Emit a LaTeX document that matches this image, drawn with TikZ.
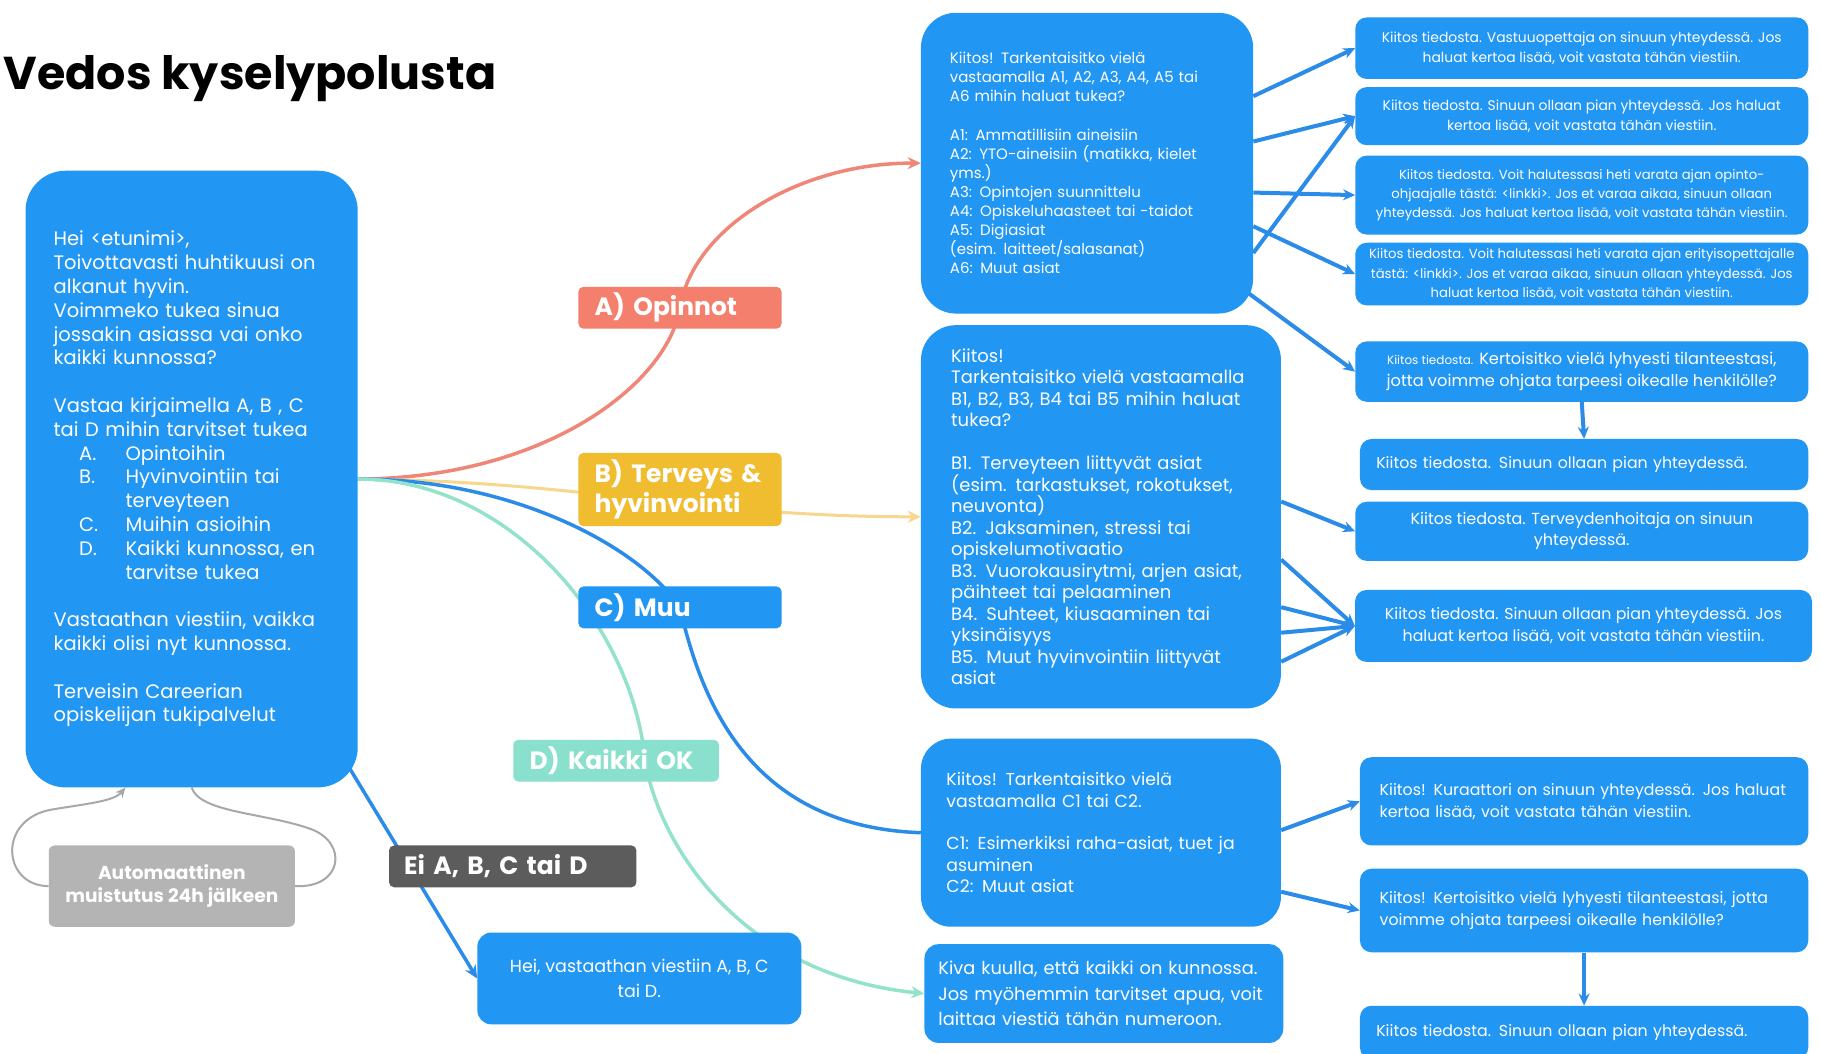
\documentclass[tikz,border=0pt]{standalone}
\usepackage{fontspec}
\setmainfont{Poppins}
\usetikzlibrary{arrows.meta,calc,backgrounds}

\definecolor{boxblue}{HTML}{2196F3}
\definecolor{lineblue}{HTML}{2A8BE8}
\definecolor{salmon}{HTML}{F47F6C}
\definecolor{salmonline}{HTML}{EF8677}
\definecolor{amber}{HTML}{F1BD30}
\definecolor{amberline}{HTML}{F7D68E}
\definecolor{mint}{HTML}{89E0CC}
\definecolor{mintline}{HTML}{93E2CC}
\definecolor{slate}{HTML}{5C5C5C}
\definecolor{graybox}{HTML}{B4B4B4}
\definecolor{loopgray}{HTML}{A8A8A8}

\begin{document}
\begin{tikzpicture}[x=1.1614pt,y=-1.1614pt,
    bubble/.style={fill=boxblue,text=white,align=left,inner ysep=0pt},
    reply/.style={fill=boxblue,text=white,align=center,rounded corners=11.6pt,
      minimum width=453pt,inner xsep=0pt,inner ysep=0pt,font=\fontsize{15.8}{22}\selectfont},
    tag/.style={text=white,align=left,rounded corners=5pt,minimum width=203.2pt,
      text width=170.6pt,inner xsep=16.3pt,inner ysep=0pt,minimum height=41.8pt,
      font=\bfseries\fontsize{25}{30}\selectfont},
    link/.style={draw=lineblue,line width=4pt,-{Stealth[length=12pt,width=11pt]}},
    branch/.style={line width=3.5pt,-{Stealth[length=13pt,width=12pt]}}]
  \useasboundingbox (0,0) rectangle (1568,907);

  \node[anchor=base west,inner sep=0pt,font=\bfseries\fontsize{46}{52}\selectfont] (title) at (3,77) {Vedos kyselypolusta};

  % first message
  \node[bubble,rounded corners=40pt,minimum height=616.7pt,text width=276pt,inner xsep=28.1pt,
    font=\fontsize{19.5}{23.8}\selectfont] (main) at (165,412.5) {Hei <etunimi>,\\
    Toivottavasti huhtikuusi on\\
    alkanut hyvin.\\
    Voimmeko tukea sinua\\
    jossakin asiassa vai onko\\
    kaikki kunnossa?\\[23.8pt]
    Vastaa kirjaimella A, B , C\\
    tai D mihin tarvitset tukea\\
    \hspace*{25.5pt}\makebox[46.5pt][l]{A.}Opintoihin\\
    \hspace*{25.5pt}\makebox[46.5pt][l]{B.}Hyvinvointiin tai\\
    \hspace*{72pt}terveyteen\\
    \hspace*{25.5pt}\makebox[46.5pt][l]{C.}Muihin asioihin\\
    \hspace*{25.5pt}\makebox[46.5pt][l]{D.}Kaikki kunnossa, en\\
    \hspace*{72pt}tarvitse tukea\\[23.8pt]
    Vastaathan viestiin, vaikka\\
    kaikki olisi nyt kunnossa.\\[23.8pt]
    Terveisin Careerian\\
    opiskelijan tukipalvelut};

  \node[fill=graybox,text=white,align=center,rounded corners=6pt,minimum width=246.2pt,minimum height=81.3pt,
    inner sep=0pt,font=\bfseries\fontsize{18.6}{23}\selectfont] (remind) at (148,763) {Automaattinen\\muistutus 24h jälkeen};

  % answer labels
  \node[tag,fill=salmon] (aopt) at (585.5,265) {A) Opinnot};
  \node[tag,fill=amber,minimum height=73.2pt] (bopt) at (585.5,421.5) {B) Terveys \&\\hyvinvointi};
  \node[tag,fill=boxblue] (copt) at (585.5,523) {C) Muu};
  \node[tag,fill=mint,minimum width=205.6pt,text width=173pt] (dopt) at (530.5,655) {D) Kaikki OK};
  \node[tag,fill=slate,minimum width=247.4pt,text width=217.2pt,inner xsep=15.1pt] (eopt) at (441.5,746) {Ei A, B, C tai D};

  % follow-up questions
  \node[bubble,rounded corners=35pt,minimum height=300.8pt,text width=274.2pt,inner xsep=29pt,
    font=\fontsize{15}{19.1}\selectfont] (abox) at (936,140.5) {Kiitos! Tarkentaisitko vielä\\
    vastaamalla A1, A2, A3, A4, A5 tai\\
    A6 mihin haluat tukea?\\[19.1pt]
    A1: Ammatillisiin aineisiin\\
    A2: YTO-aineisiin (matikka, kielet\\
    yms.)\\
    A3: Opintojen suunnittelu\\
    A4: Opiskeluhaasteet tai -taidot\\
    A5: Digiasiat\\
    (esim. laitteet/salasanat)\\
    A6: Muut asiat};

  \node[bubble,rounded corners=35pt,minimum height=383.3pt,text width=299.6pt,inner xsep=30.2pt,
    font=\fontsize{18}{21.5}\selectfont] (bbox) at (948,445) {Kiitos!\\
    Tarkentaisitko vielä vastaamalla\\
    B1, B2, B3, B4 tai B5 mihin haluat\\
    tukea?\\[21.5pt]
    B1. Terveyteen liittyvät asiat\\
    (esim. tarkastukset, rokotukset,\\
    neuvonta)\\
    B2. Jaksaminen, stressi tai\\
    opiskelumotivaatio\\
    B3. Vuorokausirytmi, arjen asiat,\\
    päihteet tai pelaaminen\\
    B4. Suhteet, kiusaaminen tai\\
    yksinäisyys\\
    B5. Muut hyvinvointiin liittyvät\\
    asiat};

  \node[bubble,rounded corners=30pt,minimum height=188.1pt,text width=309pt,inner xsep=25.5pt,
    font=\fontsize{17.3}{21.4}\selectfont] (cbox) at (948,717) {Kiitos! Tarkentaisitko vielä\\
    vastaamalla C1 tai C2.\\[21.4pt]
    C1: Esimerkiksi raha-asiat, tuet ja\\
    asuminen\\
    C2: Muut asiat};

  \node[bubble,rounded corners=14pt,minimum height=98.7pt,text width=331pt,inner xsep=13.9pt,
    font=\fontsize{17.8}{25.5}\selectfont] (dbox) at (950.5,855.5) {Kiva kuulla, että kaikki on kunnossa.\\
    Jos myöhemmin tarvitset apua, voit\\
    laittaa viestiä tähän numeroon.};

  \node[bubble,align=center,rounded corners=14pt,minimum width=324pt,minimum height=91.8pt,inner xsep=0pt,
    font=\fontsize{17.5}{24.4}\selectfont] (hei) at (550.5,842.5) {Hei, vastaathan viestiin A, B, C\\tai D.};

  % replies
  \node[reply,minimum height=61.6pt,font=\fontsize{13.9}{19.7}\selectfont] (r1) at (1362,41.5)
    {Kiitos tiedosta. Vastuuopettaja on sinuun yhteydessä. Jos\\haluat kertoa lisää, voit vastata tähän viestiin.};
  \node[reply,minimum height=58.1pt,font=\fontsize{13.9}{19.7}\selectfont] (r2) at (1362,100)
    {Kiitos tiedosta. Sinuun ollaan pian yhteydessä. Jos haluat\\kertoa lisää, voit vastata tähän viestiin.};
  \node[reply,minimum height=79pt,font=\fontsize{13.2}{19.2}\selectfont] (r3) at (1362,168)
    {Kiitos tiedosta. Voit halutessasi heti varata ajan opinto-\\ohjaajalle tästä: <linkki>. Jos et varaa aikaa, sinuun ollaan\\yhteydessä. Jos haluat kertoa lisää, voit vastata tähän viestiin.};
  \node[reply,minimum height=62.7pt,font=\fontsize{13.2}{19.2}\selectfont] (r4) at (1362,236)
    {Kiitos tiedosta. Voit halutessasi heti varata ajan erityisopettajalle\\tästä: <linkki>. Jos et varaa aikaa, sinuun ollaan yhteydessä. Jos\\haluat kertoa lisää, voit vastata tähän viestiin.};
  \node[reply,minimum height=60.4pt,font=\fontsize{16.2}{22}\selectfont] (r5) at (1362,320)
    {{\fontsize{12}{22}\selectfont Kiitos tiedosta.} Kertoisitko vielä lyhyesti tilanteestasi,\\jotta voimme ohjata tarpeesi oikealle henkilölle?};
  \node[reply,align=left,minimum width=448.3pt,text width=415.7pt,inner xsep=16.3pt,minimum height=51.1pt] (r6) at (1364,400)
    {Kiitos tiedosta. Sinuun ollaan pian yhteydessä.};
  \node[reply,minimum height=59.2pt,font=\fontsize{16}{21}\selectfont] (r7) at (1362,457.5)
    {Kiitos tiedosta. Terveydenhoitaja on sinuun\\yhteydessä.};
  \node[reply,minimum width=457pt,minimum height=72pt] (r8) at (1363.5,539)
    {Kiitos tiedosta. Sinuun ollaan pian yhteydessä. Jos\\haluat kertoa lisää, voit vastata tähän viestiin.};
  \node[reply,align=left,minimum width=448.3pt,text width=408.8pt,inner xsep=19.75pt,minimum height=88.3pt] (r9) at (1364,690)
    {Kiitos! Kuraattori on sinuun yhteydessä. Jos haluat\\kertoa lisää, voit vastata tähän viestiin.};
  \node[reply,align=left,minimum width=448.3pt,text width=408.8pt,inner xsep=19.75pt,minimum height=83.6pt] (r10) at (1364,784)
    {Kiitos! Kertoisitko vielä lyhyesti tilanteestasi, jotta\\voimme ohjata tarpeesi oikealle henkilölle?};
  \node[reply,align=left,minimum width=448.3pt,text width=415.7pt,inner xsep=16.3pt,minimum height=53.4pt] (r11) at (1364,889)
    {Kiitos tiedosta. Sinuun ollaan pian yhteydessä.};

  \begin{scope}[on background layer]
    \fill[white] (0,0) rectangle (1568,907);
    % branches from the first message
    \draw[branch,salmonline] (main.east) .. controls (470,412) and (575,330) .. (aopt.center)
      .. controls (597,195) and (690,140) .. (abox.west);
    \draw[branch,amberline,line width=3pt] (main.east) .. controls (500,414) and (600,445) .. (bbox.west);
    \draw[lineblue,line width=3.5pt] (main.east) .. controls (440,412) and (550,470) .. (copt.center)
      .. controls (605,610) and (650,712) .. (cbox.west);
    \draw[branch,mintline] (main.east) .. controls (440,412) and (545,540) .. ([xshift=29pt]dopt.center)
      .. controls (568,730) and (640,840) .. (dbox.west);
    \draw[branch,lineblue] ($(main.south east)+(-8,-18)$) -- (hei.west);
    % reminder loop
    \draw[loopgray,line width=2pt,-{Stealth[length=10pt,width=9pt]}] (remind.west) .. controls (2,763) and (-3,705) .. (45,697)
      .. controls (75,692) and (98,690) .. ($(main.south)+(-57,0)$);
    \draw[loopgray,line width=2pt] (main.south) .. controls (172,700) and (230,700) .. (268,714)
      .. controls (300,726) and (295,765) .. (remind.east);
    % A answers
    \draw[link] ($(abox.north east)+(0,72)$) -- (r1.west);
    \draw[link] ($(abox.north east)+(0,111)$) -- (r2.west);
    \draw[link] ($(abox.north east)+(0,155)$) -- (r3.west);
    \draw[link] ($(abox.north east)+(0,184)$) -- (r4.west);
    \draw[link] ($(abox.north east)+(0,207)$) -- (r2.west);
    \draw[link] ($(abox.north east)+(-5,241)$) -- (r5.west);
    \draw[link] (r5.south) -- (r6.north);
    % B answers
    \draw[link] ($(bbox.north east)+(0,152)$) -- (r7.west);
    \draw[link] ($(bbox.north east)+(0,202)$) -- (r8.west);
    \draw[link] ($(bbox.north east)+(0,243)$) -- (r8.west);
    \draw[link] ($(bbox.north east)+(0,265)$) -- (r8.west);
    \draw[link] ($(bbox.north east)+(0,290)$) -- (r8.west);
    % C answers
    \draw[link] ($(cbox.north east)+(0,79)$) -- (r9.west);
    \draw[link] ($(cbox.north east)+(0,132)$) -- (r10.west);
    \draw[link] (r10.south) -- (r11.north);
  \end{scope}
\end{tikzpicture}
\end{document}
